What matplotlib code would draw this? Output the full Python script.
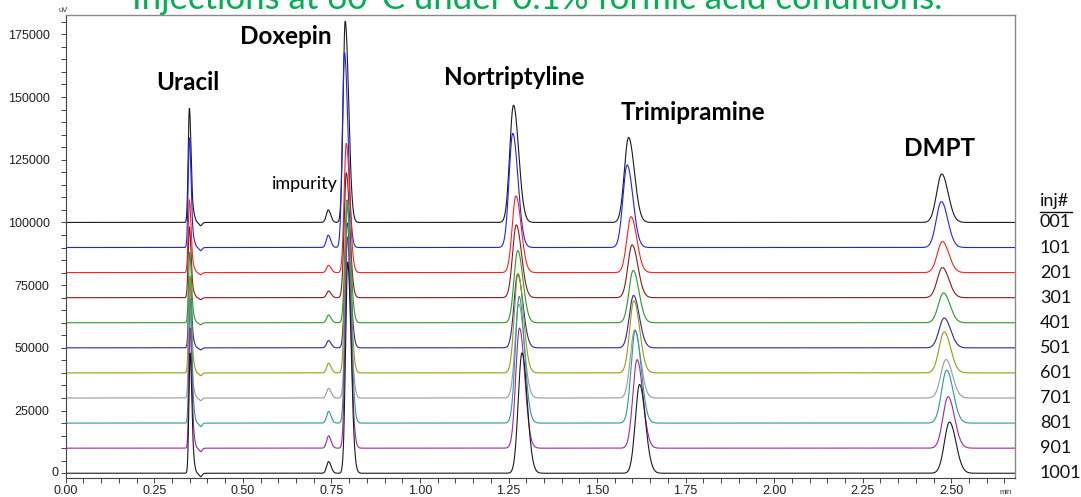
import numpy as np
import matplotlib
matplotlib.use("Agg")
import matplotlib.pyplot as plt
from matplotlib.transforms import blended_transform_factory
from matplotlib.lines import Line2D

plt.rcParams['font.family'] = ['Liberation Sans', 'DejaVu Sans']

# injections, stacked 10000 uV apart
injections = ['001', '101', '201', '301', '401', '501', '601', '701', '801', '901', '1001']
offsets = [100000, 90000, 80000, 70000, 60000, 50000, 40000, 30000, 20000, 10000, 0]
colors = ['#1a1a1a', '#2020ff', '#ff2020', '#8b1a1a', '#2a9a2a', '#2a2a9a',
          '#9a9a10', '#9a9a9a', '#2a9a9a', '#a02aa0', '#1a1a1a']

compounds = ['Uracil', 'impurity', 'Doxepin', 'Nortriptyline', 'Trimipramine', 'DMPT']

# peak heights (uV above baseline), one per injection
h_uracil = [45500, 43700, 29000, 28200, 28000, 28200, 38700, 36400, 49600, 47800, 47800]
h_impurity = [5000, 4900, 2900, 2650, 3050, 2900, 3850, 3850, 4650, 4900, 4650]
h_doxepin = [80200, 77700, 51500, 49800, 49000, 49800, 68200, 64200, 87400, 84200, 84200]
h_nortrip = [46750, 45500, 30560, 29000, 28800, 29400, 39700, 37400, 50500, 47900, 48000]
h_trimip = [33900, 32900, 22300, 21070, 20850, 20900, 28800, 27100, 37000, 35300, 35400]
h_dmpt = [19300, 18300, 12400, 12000, 11900, 11900, 16350, 15340, 21080, 20500, 20400]

# retention times (min), one per injection
rt_uracil = [0.349, 0.349, 0.349, 0.349, 0.350, 0.350, 0.350, 0.350, 0.351, 0.351, 0.351]
rt_impurity = [0.741, 0.741, 0.742, 0.742, 0.742, 0.742, 0.742, 0.742, 0.742, 0.742, 0.742]
rt_doxepin = [0.789, 0.787, 0.792, 0.792, 0.794, 0.794, 0.794, 0.795, 0.795, 0.795, 0.796]
rt_nortrip = [1.264, 1.262, 1.271, 1.272, 1.276, 1.276, 1.277, 1.279, 1.280, 1.281, 1.288]
rt_trimip = [1.589, 1.585, 1.596, 1.599, 1.602, 1.603, 1.604, 1.606, 1.608, 1.613, 1.620]
rt_dmpt = [2.473, 2.472, 2.475, 2.475, 2.478, 2.480, 2.480, 2.485, 2.487, 2.491, 2.495]

heights = [h_uracil, h_impurity, h_doxepin, h_nortrip, h_trimip, h_dmpt]
rts = [rt_uracil, rt_impurity, rt_doxepin, rt_nortrip, rt_trimip, rt_dmpt]
sigmas = [0.0033, 0.0055, 0.0060, 0.0105, 0.0120, 0.0145]
tails = [1.5, 1.3, 1.6, 1.4, 1.35, 1.25]

label_t = [0.346, 0.676, 0.622, 1.266, 1.772, 2.467]
label_v = [155900, 115300, 174300, 157600, 144000, 129600]

yticks = [0, 25000, 50000, 75000, 100000, 125000, 150000, 175000]


def peak(t, rt, h, s, tail):
    sig = np.where(t < rt, s, s * tail)
    return h * np.exp(-0.5 * ((t - rt) / sig) ** 2)


t = np.linspace(0, 2.68, 8000)

fig = plt.figure(figsize=(10.81, 4.97), dpi=100)
ax = fig.add_axes([0.0608, 0.0382, 0.8782, 0.9316])

for i, inj in enumerate(injections):
    y = np.full_like(t, offsets[i], dtype=float)
    for c in range(len(compounds)):
        y += peak(t, rts[c][i], heights[c][i], sigmas[c], tails[c])
    # small system dip after the void peak
    k = heights[0][i] / h_uracil[0]
    y += peak(t, 0.362, 2500 * k, 0.004, 1.0)
    y -= peak(t, 0.381, 1300 * k, 0.004, 1.0)
    ax.plot(t, y, color=colors[i], lw=0.8)

ax.set_xlim(0, 2.68)
ax.set_ylim(-1900, 182700)
ax.set_xticks(np.arange(0, 2.51, 0.25))
ax.set_xticks(np.arange(0, 2.68, 0.05), minor=True)
ax.set_xticklabels([f"{v:.2f}" for v in np.arange(0, 2.51, 0.25)])
ax.set_yticks(yticks)
# the software puts the "0" label closer to the axis, drawn separately below
ax.set_yticklabels([''] + [str(v) for v in yticks[1:]])
ax.set_yticks(np.arange(0, 182000, 5000), minor=True)
ax.tick_params(axis='both', which='both', direction='out', length=3.6, width=0.7,
               color='#444444', labelsize=9, labelcolor='#222222')
ax.tick_params(axis='y', which='major', pad=8)
ax.tick_params(axis='x', which='major', pad=1.5)
ax.annotate('0', xy=(0, 0), xycoords=('axes fraction', 'data'), xytext=(-5.5, 0),
            textcoords='offset points', ha='right', va='center', fontsize=9,
            color='#222222', annotation_clip=False)
for side in ['left', 'bottom']:
    ax.spines[side].set_color('#444444')
    ax.spines[side].set_linewidth(0.8)
for side in ['top', 'right']:
    ax.spines[side].set_color('#888888')
    ax.spines[side].set_linewidth(1.0)

for c, name in enumerate(compounds):
    if name == 'impurity':
        ax.text(label_t[c], label_v[c], name, ha='center', va='center',
                fontsize=13, family='Lato')
    else:
        ax.text(label_t[c], label_v[c], name, ha='center', va='center',
                fontsize=17.5, fontweight='bold', family='Lato')

tr = blended_transform_factory(fig.transFigure, ax.transData)
for i, inj in enumerate(injections):
    fig.text(1040 / 1081, offsets[i], inj, transform=tr, ha='left', va='center',
             fontsize=13, family='Lato', color='#111111')
fig.text(1040 / 1081, 1 - 201 / 497, 'inj#', ha='left', va='center',
         fontsize=13, family='Lato', color='#111111')
fig.add_artist(Line2D([1040 / 1081, 1072 / 1081], [1 - 212 / 497, 1 - 212 / 497],
                      color='#111111', lw=1.0, transform=fig.transFigure))

fig.text(63 / 1081, 1 - 11 / 497, 'uV', ha='center', va='center', fontsize=5.5,
         color='#333333')
fig.text(1006 / 1081, 1 - 492 / 497, 'min', ha='center', va='center', fontsize=5.5,
         color='#333333')

fig.text(0.497, 1 - 9 / 497, 'Injections at 60\u00b0C under 0.1% formic acid conditions.',
         ha='center', va='baseline', fontsize=25, family='Lato', color='#00b050')

fig.savefig('out.png', dpi=100)
